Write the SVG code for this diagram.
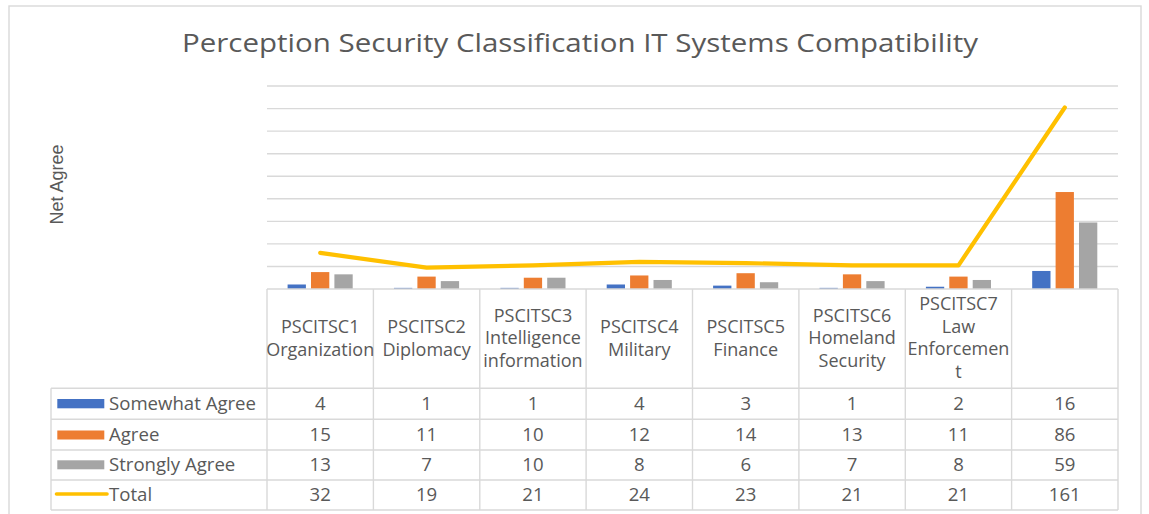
<svg xmlns="http://www.w3.org/2000/svg" width="1149" height="514" viewBox="0 0 1149 514">
<style>
.t{font-family:"Open Sans","Liberation Sans",sans-serif;fill:#595959;font-size:18.6px;text-anchor:middle}
.h{font-family:"Open Sans","Liberation Sans",sans-serif;fill:#595959;font-size:18px;text-anchor:middle}
.lg{font-family:"Open Sans","Liberation Sans",sans-serif;fill:#595959;font-size:18.6px}
.grid{stroke:#D9D9D9;stroke-width:1.4;fill:none}
.tb{stroke:#D9D9D9;stroke-width:1.4;fill:none}
.b{fill:#4472C4}.o{fill:#ED7D31}.g{fill:#A5A5A5}
</style>
<rect x="0" y="0" width="1149" height="514" fill="#FFFFFF"/>
<rect x="9" y="6" width="1132" height="520" fill="#FFFFFF" stroke="#D9D9D9" stroke-width="1.4"/>
<g id="title">
<text x="182" y="51.7" textLength="796" lengthAdjust="spacingAndGlyphs" style="font-family:'Open Sans','Liberation Sans',sans-serif;font-size:26px;fill:#595959">Perception Security Classification IT Systems Compatibility</text>
</g>
<g id="axis-label">
<text transform="translate(63,184.5) rotate(-90)" style="font-family:'Liberation Sans',Arial,sans-serif;font-size:18px;fill:#595959;text-anchor:middle">Net Agree</text>
</g>
<g id="gridlines" class="grid">
<line x1="267" y1="266.45" x2="1118" y2="266.45"/>
<line x1="267" y1="243.9" x2="1118" y2="243.9"/>
<line x1="267" y1="221.35" x2="1118" y2="221.35"/>
<line x1="267" y1="198.8" x2="1118" y2="198.8"/>
<line x1="267" y1="176.25" x2="1118" y2="176.25"/>
<line x1="267" y1="153.7" x2="1118" y2="153.7"/>
<line x1="267" y1="131.15" x2="1118" y2="131.15"/>
<line x1="267" y1="108.6" x2="1118" y2="108.6"/>
<line x1="267" y1="86.05" x2="1118" y2="86.05"/>
</g>
<g id="series-somewhat-agree" class="b">
<rect x="287.6" y="284.49" width="18.3" height="4.51"/>
<rect x="394.0" y="287.87" width="18.3" height="1.13"/>
<rect x="500.4" y="287.87" width="18.3" height="1.13"/>
<rect x="606.7" y="284.49" width="18.3" height="4.51"/>
<rect x="713.1" y="285.62" width="18.3" height="3.38"/>
<rect x="819.5" y="287.87" width="18.3" height="1.13"/>
<rect x="925.9" y="286.74" width="18.3" height="2.26"/>
<rect x="1032.2" y="270.96" width="18.3" height="18.04"/>
</g>
<g id="series-agree" class="o">
<rect x="311.0" y="272.09" width="18.3" height="16.91"/>
<rect x="417.4" y="276.6" width="18.3" height="12.4"/>
<rect x="523.8" y="277.72" width="18.3" height="11.28"/>
<rect x="630.1" y="275.47" width="18.3" height="13.53"/>
<rect x="736.5" y="273.21" width="18.3" height="15.79"/>
<rect x="842.9" y="274.34" width="18.3" height="14.66"/>
<rect x="949.3" y="276.6" width="18.3" height="12.4"/>
<rect x="1055.6" y="192.03" width="18.3" height="96.97"/>
</g>
<g id="series-strongly-agree" class="g">
<rect x="334.4" y="274.34" width="18.3" height="14.66"/>
<rect x="440.8" y="281.11" width="18.3" height="7.89"/>
<rect x="547.2" y="277.72" width="18.3" height="11.28"/>
<rect x="653.5" y="279.98" width="18.3" height="9.02"/>
<rect x="759.9" y="282.23" width="18.3" height="6.77"/>
<rect x="866.3" y="281.11" width="18.3" height="7.89"/>
<rect x="972.7" y="279.98" width="18.3" height="9.02"/>
<rect x="1079.0" y="222.48" width="18.3" height="66.52"/>
</g>
<g id="connectors">
<polyline id="series-total" points="320.2,252.9 426.6,267.6 533.0,265.3 639.3,261.9 745.7,263.1 852.1,265.3 958.5,265.3 1064.8,107.5" fill="none" stroke="#FFC000" stroke-width="4.2" stroke-linejoin="round" stroke-linecap="round"/>
</g>
<g id="table" class="tb">
<line x1="267" y1="289" x2="1118" y2="289"/>
<line x1="51" y1="388.3" x2="1118" y2="388.3"/>
<line x1="51" y1="419.3" x2="1118" y2="419.3"/>
<line x1="51" y1="450" x2="1118" y2="450"/>
<line x1="51" y1="480" x2="1118" y2="480"/>
<line x1="51" y1="510" x2="1118" y2="510"/>
<line x1="51" y1="388.3" x2="51" y2="510"/>
<line x1="267" y1="289" x2="267" y2="510"/>
<line x1="373.4" y1="289" x2="373.4" y2="510"/>
<line x1="479.8" y1="289" x2="479.8" y2="510"/>
<line x1="586.1" y1="289" x2="586.1" y2="510"/>
<line x1="692.5" y1="289" x2="692.5" y2="510"/>
<line x1="798.9" y1="289" x2="798.9" y2="510"/>
<line x1="905.3" y1="289" x2="905.3" y2="510"/>
<line x1="1011.6" y1="289" x2="1011.6" y2="510"/>
<line x1="1118" y1="289" x2="1118" y2="510"/>
</g>
<g id="headers" class="h">
<text x="320.2" y="333">PSCITSC1</text><text x="320.2" y="355.5">Organization</text>
<text x="426.6" y="333">PSCITSC2</text><text x="426.6" y="355.5">Diplomacy</text>
<text x="533.0" y="321.5">PSCITSC3</text><text x="533.0" y="344.2">Intelligence</text><text x="533.0" y="366.9">information</text>
<text x="639.3" y="333">PSCITSC4</text><text x="639.3" y="355.5">Military</text>
<text x="745.7" y="333">PSCITSC5</text><text x="745.7" y="355.5">Finance</text>
<text x="852.1" y="321.5">PSCITSC6</text><text x="852.1" y="344.2">Homeland</text><text x="852.1" y="366.9">Security</text>
<text x="958.5" y="310">PSCITSC7</text><text x="958.5" y="332.7">Law</text><text x="958.5" y="355.3">Enforcemen</text><text x="958.5" y="378">t</text>
</g>
<g id="legend">
<rect x="57.3" y="399" width="47" height="9.3" fill="#4472C4"/>
<rect x="57.3" y="430.5" width="47" height="9" fill="#ED7D31"/>
<rect x="57.3" y="460.3" width="47" height="9" fill="#A5A5A5"/>
<line x1="56.5" y1="494" x2="107" y2="494" stroke="#FFC000" stroke-width="3.6" stroke-linecap="round"/>
<text class="lg" x="109" y="410.3">Somewhat Agree</text>
<text class="lg" x="109" y="440.5">Agree</text>
<text class="lg" x="109" y="470.6">Strongly Agree</text>
<text class="lg" x="109" y="500.7">Total</text>
</g>
<g id="values" class="t">
<text x="320.2" y="410.3">4</text><text x="426.6" y="410.3">1</text><text x="533.0" y="410.3">1</text><text x="639.3" y="410.3">4</text><text x="745.7" y="410.3">3</text><text x="852.1" y="410.3">1</text><text x="958.5" y="410.3">2</text><text x="1064.8" y="410.3">16</text>
<text x="320.2" y="440.5">15</text><text x="426.6" y="440.5">11</text><text x="533.0" y="440.5">10</text><text x="639.3" y="440.5">12</text><text x="745.7" y="440.5">14</text><text x="852.1" y="440.5">13</text><text x="958.5" y="440.5">11</text><text x="1064.8" y="440.5">86</text>
<text x="320.2" y="470.6">13</text><text x="426.6" y="470.6">7</text><text x="533.0" y="470.6">10</text><text x="639.3" y="470.6">8</text><text x="745.7" y="470.6">6</text><text x="852.1" y="470.6">7</text><text x="958.5" y="470.6">8</text><text x="1064.8" y="470.6">59</text>
<text x="320.2" y="500.7">32</text><text x="426.6" y="500.7">19</text><text x="533.0" y="500.7">21</text><text x="639.3" y="500.7">24</text><text x="745.7" y="500.7">23</text><text x="852.1" y="500.7">21</text><text x="958.5" y="500.7">21</text><text x="1064.8" y="500.7">161</text>
</g>
</svg>
